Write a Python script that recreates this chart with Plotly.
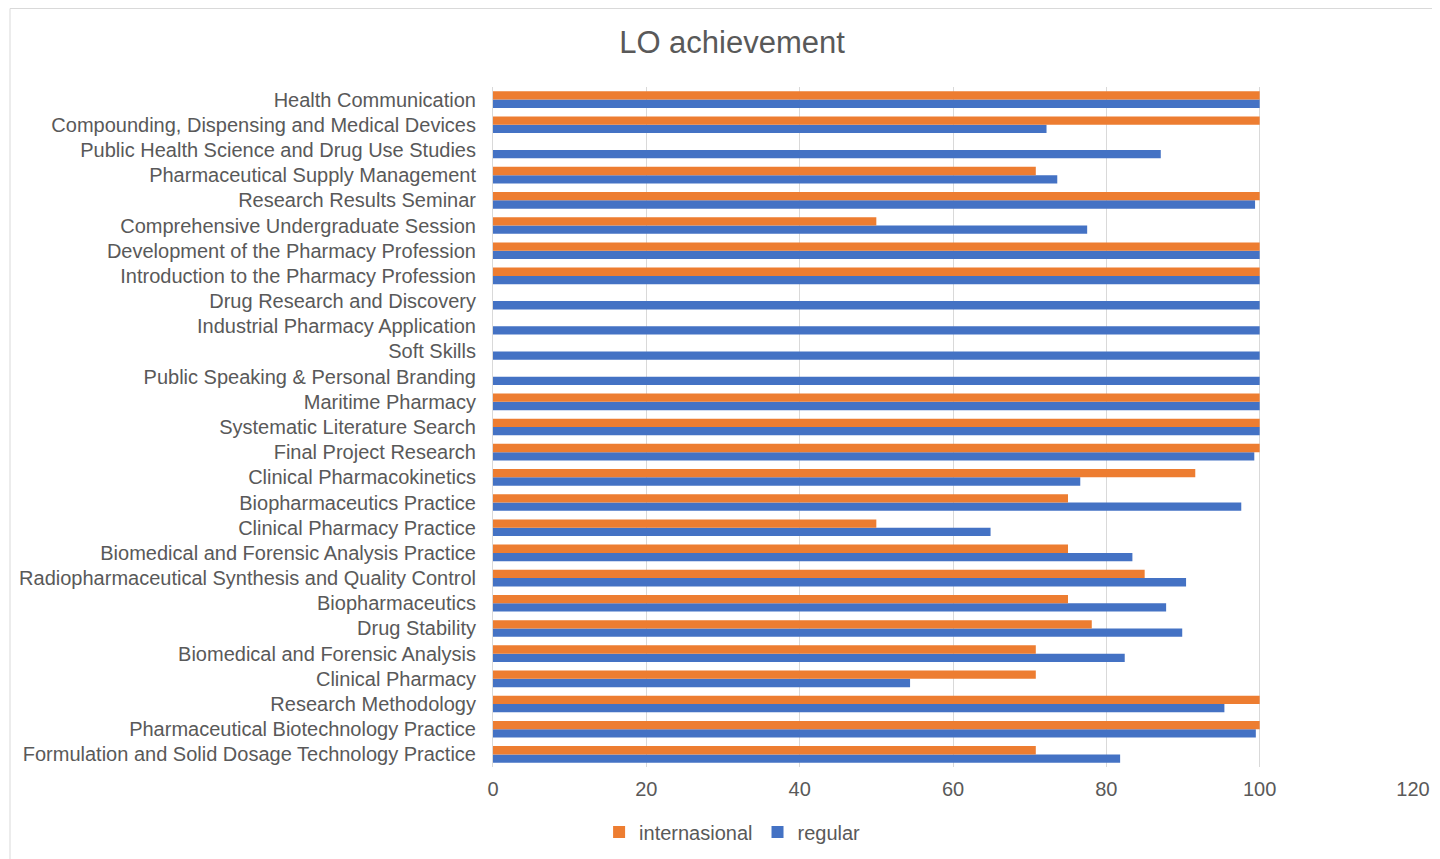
import plotly.graph_objects as go

# categories listed bottom -> top (plotly puts the first category at the bottom)
courses = [
    "Formulation and Solid Dosage Technology Practice",
    "Pharmaceutical Biotechnology Practice",
    "Research Methodology",
    "Clinical Pharmacy",
    "Biomedical and Forensic Analysis",
    "Drug Stability",
    "Biopharmaceutics",
    "Radiopharmaceutical Synthesis and Quality Control",
    "Biomedical and Forensic Analysis Practice",
    "Clinical Pharmacy Practice",
    "Biopharmaceutics Practice",
    "Clinical Pharmacokinetics",
    "Final Project Research",
    "Systematic Literature Search",
    "Maritime Pharmacy",
    "Public Speaking & Personal Branding",
    "Soft Skills",
    "Industrial Pharmacy Application",
    "Drug Research and Discovery",
    "Introduction to the Pharmacy Profession",
    "Development of the Pharmacy Profession",
    "Comprehensive Undergraduate Session",
    "Research Results Seminar",
    "Pharmaceutical Supply Management",
    "Public Health Science and Drug Use Studies",
    "Compounding, Dispensing and Medical Devices",
    "Health Communication",
]

regular = [81.8, 99.5, 95.4, 54.4, 82.4, 89.9, 87.8, 90.4, 83.4, 64.9,
           97.6, 76.6, 99.3, 100, 100, 100, 100, 100, 100, 100,
           100, 77.5, 99.4, 73.6, 87.1, 72.2, 100]

internasional = [70.8, 100, 100, 70.8, 70.8, 78.1, 75, 85, 75, 50,
                 75, 91.6, 100, 100, 100, None, None, None, None, 100,
                 100, 50, 100, 70.8, None, 100, 100]

text_col = "#595959"
font_fam = "Liberation Sans, Arial, sans-serif"

# page body adds an 8px offset, so the figure is 8px smaller each way
W, H = 1432, 851

fig = go.Figure()
# regular first so it sits below internasional within each group
fig.add_trace(go.Bar(y=courses, x=regular, name="regular", orientation="h",
                     marker=dict(color="#4472C4", line=dict(width=0)),
                     legendrank=2))
fig.add_trace(go.Bar(y=courses, x=internasional, name="internasional", orientation="h",
                     marker=dict(color="#ED7D31", line=dict(width=0)),
                     legendrank=1))

fig.update_layout(
    width=W, height=H,
    paper_bgcolor="white", plot_bgcolor="white",
    margin=dict(l=485, r=27, t=79, b=92, autoexpand=False),
    barmode="group", bargap=0.34, bargroupgap=0,
    font=dict(family=font_fam, size=20, color=text_col),
    title=dict(text="LO achievement", x=0.5056, xanchor="center", xref="container",
               y=1 - 34 / H, yanchor="middle", yref="container",
               font=dict(size=31, color=text_col, family=font_fam)),
    legend=dict(orientation="h", x=0.506, xanchor="center", xref="container",
                y=(H - 824) / H, yanchor="middle", yref="container",
                font=dict(size=20, color=text_col),
                itemwidth=30, tracegroupgap=0),
    showlegend=True,
)

fig.update_xaxes(range=[0, 120], dtick=20, tick0=0, showgrid=True,
                 gridcolor="#D9D9D9", gridwidth=1, zeroline=False,
                 showline=False, ticks="outside", ticklen=4, tickcolor="white",
                 tickangle=0, automargin=False,
                 tickfont=dict(size=20, color=text_col))
fig.update_yaxes(type="category", showgrid=False, showline=True, linecolor="#D9D9D9",
                 linewidth=1, ticks="outside", ticklen=12, tickcolor="white",
                 automargin=False,
                 tickfont=dict(size=20, color=text_col))

# chart area border
fig.add_shape(type="rect", xref="paper", yref="paper",
              x0=-0.525, x1=1.05, y0=-0.2, y1=1 + 78.5 / 680,
              line=dict(color="#D9D9D9", width=1), fillcolor="rgba(0,0,0,0)",
              layer="below")

fig.write_html("out.html")
